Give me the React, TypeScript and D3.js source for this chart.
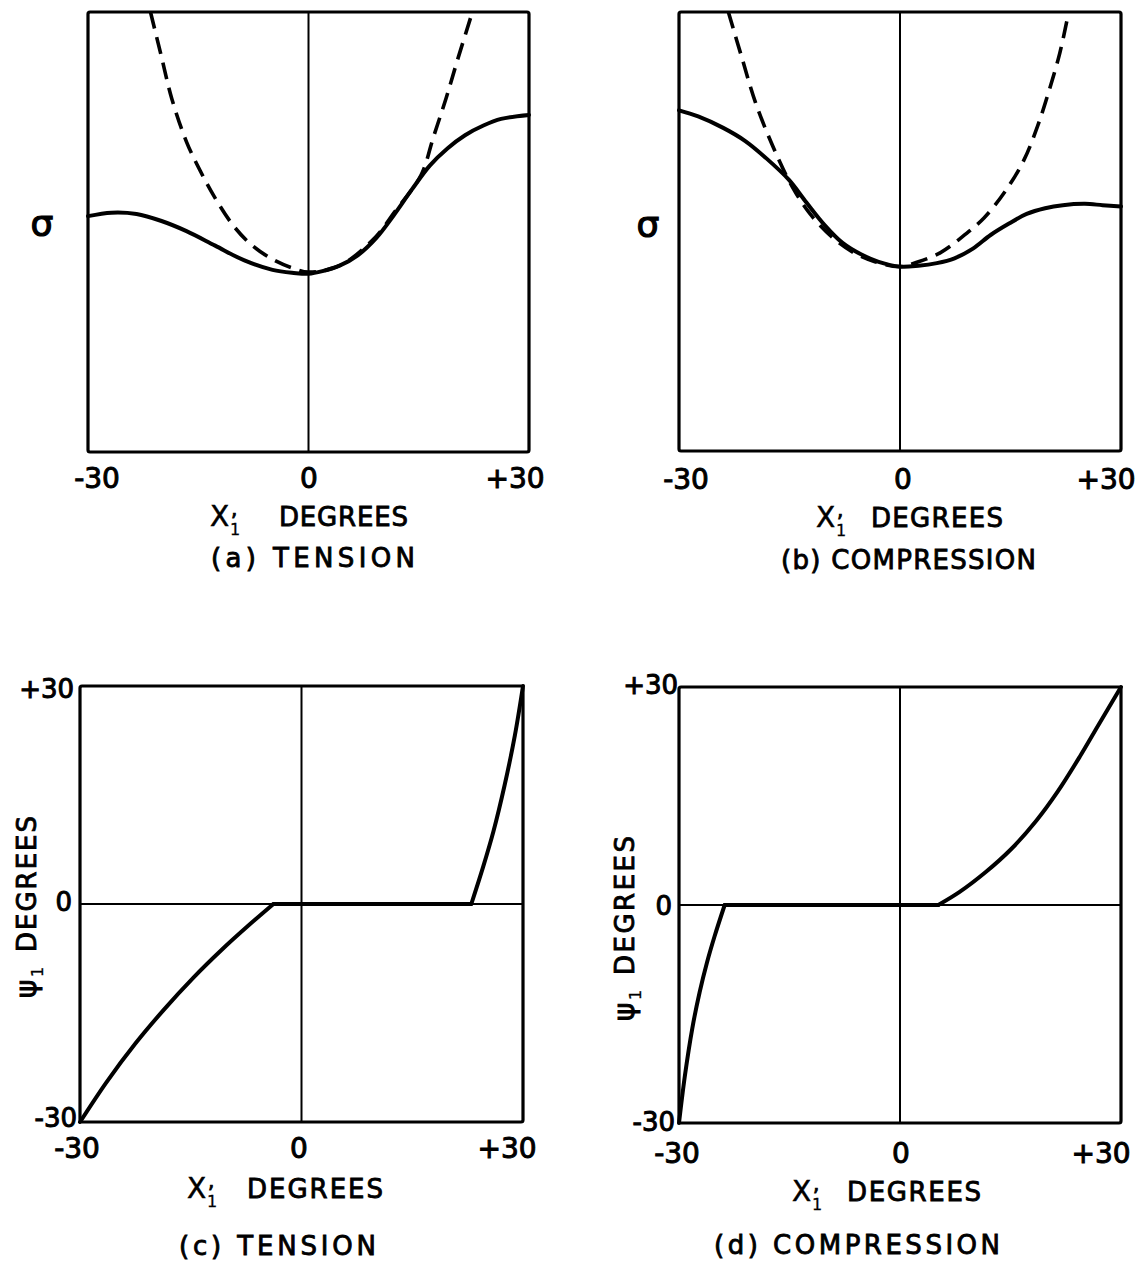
import React from "react";
import * as d3 from "d3";

// ---------- data ----------
const X_TICK_VALUES = [-30, 0, 30];
const X_TICK_LABELS = ["-30", "0", "+30"];
const Y_TICK_VALUES = [30, 0, -30];
const Y_TICK_LABELS = ["+30", "0", "-30"];

// (a) tension: sigma (arbitrary units, 0 = bottom, 100 = top)
const A_SOLID_X = [-30, -26.8, -23.4, -20, -16.6, -12.7, -8.8, -4.9, -2, 0, 1.9, 4.3, 6.7, 9.2, 11.6, 14, 16.5, 18.9, 21.3, 23.8, 26.2, 30];
const A_SOLID_Y = [53.6, 54.4, 54.1, 52.5, 50.2, 46.9, 43.6, 41.4, 40.7, 40.5, 41.1, 42.4, 44.7, 48.6, 53.8, 59.5, 65.1, 69.0, 72.0, 74.2, 75.7, 76.6];
const A_DASH_X = [-21.5, -20, -18.6, -16.6, -14.7, -12.7, -10.3, -7.9, -4.9, -2, 0, 4.3, 9.2, 11.6, 15.3, 17, 18.7, 20.4, 22.3];
const A_DASH_Y = [100, 89.8, 80.3, 70.5, 63.8, 57.7, 51.6, 47.3, 43.8, 41.7, 40.9, 42.4, 49.0, 54.3, 62.9, 71.6, 80.3, 89.8, 100];

// (b) compression: sigma
const B_SOLID_X = [-30, -27.4, -24, -21, -18.1, -15.1, -12.7, -10.2, -7.8, -5.3, -2.9, 0, 2.5, 5, 7.4, 9.9, 12.3, 14.8, 17.2, 19.7, 22.1, 25.1, 27.5, 30];
const B_SOLID_Y = [77.6, 76.2, 73.6, 70.6, 66.6, 61.8, 56.6, 51.4, 47.4, 44.8, 43.1, 42.0, 42.2, 42.8, 43.9, 46.1, 49.2, 51.8, 54.0, 55.3, 56.0, 56.3, 56.0, 55.7];
const B_DASH_X = [-23.3, -21.5, -19.6, -17.1, -14.6, -12.2, -9.2, -6.3, -3.4, 0, 2.5, 5.5, 8.4, 11.4, 14.3, 16.8, 18.7, 20.2, 21.7, 22.9];
const B_DASH_Y = [100, 89.8, 79.3, 68.8, 60.1, 54.0, 48.7, 45.2, 43.1, 42.0, 43.1, 45.2, 48.7, 53.1, 59.2, 66.2, 74.1, 81.9, 90.7, 100];

// (c) tension: psi1 vs X1' — three pieces (rising left, flat, rising right)
const C_LEFT_X = [-30, -26.4, -22.5, -18.6, -14.7, -10.8, -7, -3.8];
const C_LEFT_Y = [-30, -24.5, -19.2, -14.5, -10.2, -6.3, -2.8, 0];
const C_FLAT_X = [-3.8, 23];
const C_FLAT_Y = [0, 0];
const C_RIGHT_X = [23, 24.6, 26, 27.5, 28.9, 30];
const C_RIGHT_Y = [0, 5.1, 10.0, 16.3, 23.2, 30];

// (d) compression: psi1 vs X1'
const D_LEFT_X = [-30, -29.2, -28.2, -27.2, -26.2, -25.2, -23.8];
const D_LEFT_Y = [-30, -23.5, -17.0, -12.0, -7.9, -4.4, 0];
const D_FLAT_X = [-23.8, 5.2];
const D_FLAT_Y = [0, 0];
const D_RIGHT_X = [5.2, 8.1, 11.6, 15, 18.5, 21.4, 24.4, 26.9, 30];
const D_RIGHT_Y = [0, 1.8, 4.5, 7.6, 11.6, 15.6, 20.4, 24.7, 30];

const CAPTIONS = ["(a) TENSION", "(b) COMPRESSION", "(c) TENSION", "(d) COMPRESSION"];

// ---------- layout ----------
const FONT = "'DejaVu Sans', 'Liberation Sans', sans-serif";
const TXT = { fontFamily: FONT, fill: "#000", stroke: "#000", strokeWidth: 0.85 } as const;

type Box = { x0: number; x1: number; y0: number; y1: number };
type Pt = [number, number];

type PanelCfg = {
  box: Box;
  yDomain: [number, number];
  solid: Pt[][];
  dashed?: Pt[];
  hZero: boolean;
  xTickPos: number[];
  xTickBase: number;
  yTicks?: { right: number; base: number }[];
  sigma?: { x: number; y: number };
  xLabel: { x: number; dx: number; dEnd: number; base: number };
  caption: { x0: number; x1: number; base: number; text: string };
  yLabel?: { x: number; y: number; dStart: number; dLen: number };
};

const zip = (xs: number[], ys: number[]) => xs.map((x, i) => [x, ys[i]] as Pt);

const PANELS: PanelCfg[] = [
  {
    box: { x0: 88, x1: 529, y0: 12, y1: 452 },
    yDomain: [0, 100],
    solid: [zip(A_SOLID_X, A_SOLID_Y)],
    dashed: zip(A_DASH_X, A_DASH_Y),
    hZero: false,
    xTickPos: [97, 309, 515],
    xTickBase: 488,
    sigma: { x: 42, y: 236 },
    xLabel: { x: 210, dx: 279, dEnd: 408, base: 526 },
    caption: { x0: 211, x1: 415, base: 567, text: CAPTIONS[0] },
  },
  {
    box: { x0: 679, x1: 1121, y0: 12, y1: 451 },
    yDomain: [0, 100],
    solid: [zip(B_SOLID_X, B_SOLID_Y)],
    dashed: zip(B_DASH_X, B_DASH_Y),
    hZero: false,
    xTickPos: [686, 903, 1106],
    xTickBase: 489,
    sigma: { x: 648, y: 237 },
    xLabel: { x: 816, dx: 871, dEnd: 1003, base: 527 },
    caption: { x0: 781, x1: 1036, base: 569, text: CAPTIONS[1] },
  },
  {
    box: { x0: 80, x1: 523, y0: 686, y1: 1122 },
    yDomain: [-30, 30],
    solid: [zip(C_LEFT_X, C_LEFT_Y), zip(C_FLAT_X, C_FLAT_Y), zip(C_RIGHT_X, C_RIGHT_Y)],
    hZero: true,
    xTickPos: [77, 299, 507],
    xTickBase: 1158,
    yTicks: [
      { right: 74, base: 698 },
      { right: 72, base: 911 },
      { right: 77, base: 1127 },
    ],
    xLabel: { x: 187, dx: 247, dEnd: 383, base: 1198 },
    caption: { x0: 179, x1: 376, base: 1255, text: CAPTIONS[2] },
    yLabel: { x: 36, y: 998, dStart: 46, dLen: 136 },
  },
  {
    box: { x0: 679, x1: 1121, y0: 687, y1: 1123 },
    yDomain: [-30, 30],
    solid: [zip(D_LEFT_X, D_LEFT_Y), zip(D_FLAT_X, D_FLAT_Y), zip(D_RIGHT_X, D_RIGHT_Y)],
    hZero: true,
    xTickPos: [677, 901, 1101],
    xTickBase: 1163,
    yTicks: [
      { right: 678, base: 694 },
      { right: 672, base: 915 },
      { right: 675, base: 1131 },
    ],
    xLabel: { x: 792, dx: 847, dEnd: 981, base: 1201 },
    caption: { x0: 714, x1: 1000, base: 1254, text: CAPTIONS[3] },
    yLabel: { x: 634, y: 1021, dStart: 46, dLen: 139 },
  },
];

function Panel({ cfg }: { cfg: PanelCfg }) {
  const { box } = cfg;
  const xs = d3.scaleLinear().domain([-30, 30]).range([box.x0, box.x1]);
  const ys = d3.scaleLinear().domain(cfg.yDomain).range([box.y1, box.y0]);
  const line = d3
    .line<Pt>()
    .x((d) => xs(d[0]))
    .y((d) => ys(d[1]))
    .curve(d3.curveCatmullRom.alpha(0.5));

  return (
    <g>
      {/* zero lines */}
      <line x1={xs(0)} x2={xs(0)} y1={box.y0} y2={box.y1} stroke="#000" strokeWidth={2} />
      {cfg.hZero && (
        <line x1={box.x0} x2={box.x1} y1={ys(0)} y2={ys(0)} stroke="#000" strokeWidth={2} />
      )}
      {/* curves */}
      {cfg.dashed && (
        <path
          d={line(cfg.dashed) || ""}
          fill="none"
          stroke="#000"
          strokeWidth={3.6}
          strokeDasharray="17 9"
        />
      )}
      {cfg.solid.map((seg, i) => (
        <path
          key={"s" + i}
          d={line(seg) || ""}
          fill="none"
          stroke="#000"
          strokeWidth={4}
          strokeLinecap="round"
          strokeLinejoin="round"
        />
      ))}
      {/* frame */}
      <rect
        x={box.x0}
        y={box.y0}
        width={box.x1 - box.x0}
        height={box.y1 - box.y0}
        fill="none"
        stroke="#000"
        strokeWidth={3.2}
        rx={2}
      />
      {/* x tick labels */}
      {X_TICK_VALUES.map((v, i) => (
        <text key={"xt" + v} x={cfg.xTickPos[i]} y={cfg.xTickBase} textAnchor="middle" fontSize={28} {...TXT} strokeWidth={1}>
          {X_TICK_LABELS[i]}
        </text>
      ))}
      {/* y tick labels */}
      {cfg.yTicks &&
        Y_TICK_VALUES.map((v, i) => (
          <text
            key={"yt" + v}
            x={cfg.yTicks![i].right}
            y={cfg.yTicks![i].base}
            textAnchor="end"
            fontSize={26}
            {...TXT}
            strokeWidth={1}
          >
            {Y_TICK_LABELS[i]}
          </text>
        ))}
      {/* sigma */}
      {cfg.sigma && (
        <text x={cfg.sigma.x} y={cfg.sigma.y} textAnchor="middle" fontSize={36} {...TXT} strokeWidth={1.2}>
          σ
        </text>
      )}
      {/* x axis label: X1' DEGREES */}
      <text x={cfg.xLabel.x} y={cfg.xLabel.base} fontSize={28} {...TXT} strokeWidth={0.5}>
        X
      </text>
      <text x={cfg.xLabel.x + 21} y={cfg.xLabel.base - 10} fontSize={20} {...TXT}>
        ,
      </text>
      <text x={cfg.xLabel.x + 20} y={cfg.xLabel.base + 9} fontSize={16} {...TXT} strokeWidth={0.3}>
        1
      </text>
      <text
        x={cfg.xLabel.dx}
        y={cfg.xLabel.base}
        fontSize={26}
        textLength={cfg.xLabel.dEnd - cfg.xLabel.dx}
        lengthAdjust="spacing"
        {...TXT}
      >
        DEGREES
      </text>
      {/* caption */}
      <text
        x={cfg.caption.x0}
        y={cfg.caption.base}
        fontSize={26}
        textLength={cfg.caption.x1 - cfg.caption.x0}
        lengthAdjust="spacing"
        {...TXT}
      >
        {cfg.caption.text}
      </text>
      {/* y axis label (rotated) */}
      {cfg.yLabel && (
        <g transform={`translate(${cfg.yLabel.x},${cfg.yLabel.y}) rotate(-90)`}>
          <text x={0} y={0} fontSize={28} {...TXT} strokeWidth={1}>
            ψ
          </text>
          <text x={21} y={7} fontSize={16} {...TXT} strokeWidth={0.3}>
            1
          </text>
          <text
            x={cfg.yLabel.dStart}
            y={0}
            fontSize={26}
            textLength={cfg.yLabel.dLen}
            lengthAdjust="spacing"
            {...TXT}
          >
            DEGREES
          </text>
        </g>
      )}
    </g>
  );
}

export default function App() {
  return (
    <svg
      width={1137}
      height={1264}
      viewBox="0 0 1137 1264"
      style={{ position: "absolute", left: 0, top: 0, background: "#fff" }}
    >
      <rect x={0} y={0} width={1137} height={1264} fill="#fff" />
      {PANELS.map((p, i) => (
        <Panel key={i} cfg={p} />
      ))}
    </svg>
  );
}
